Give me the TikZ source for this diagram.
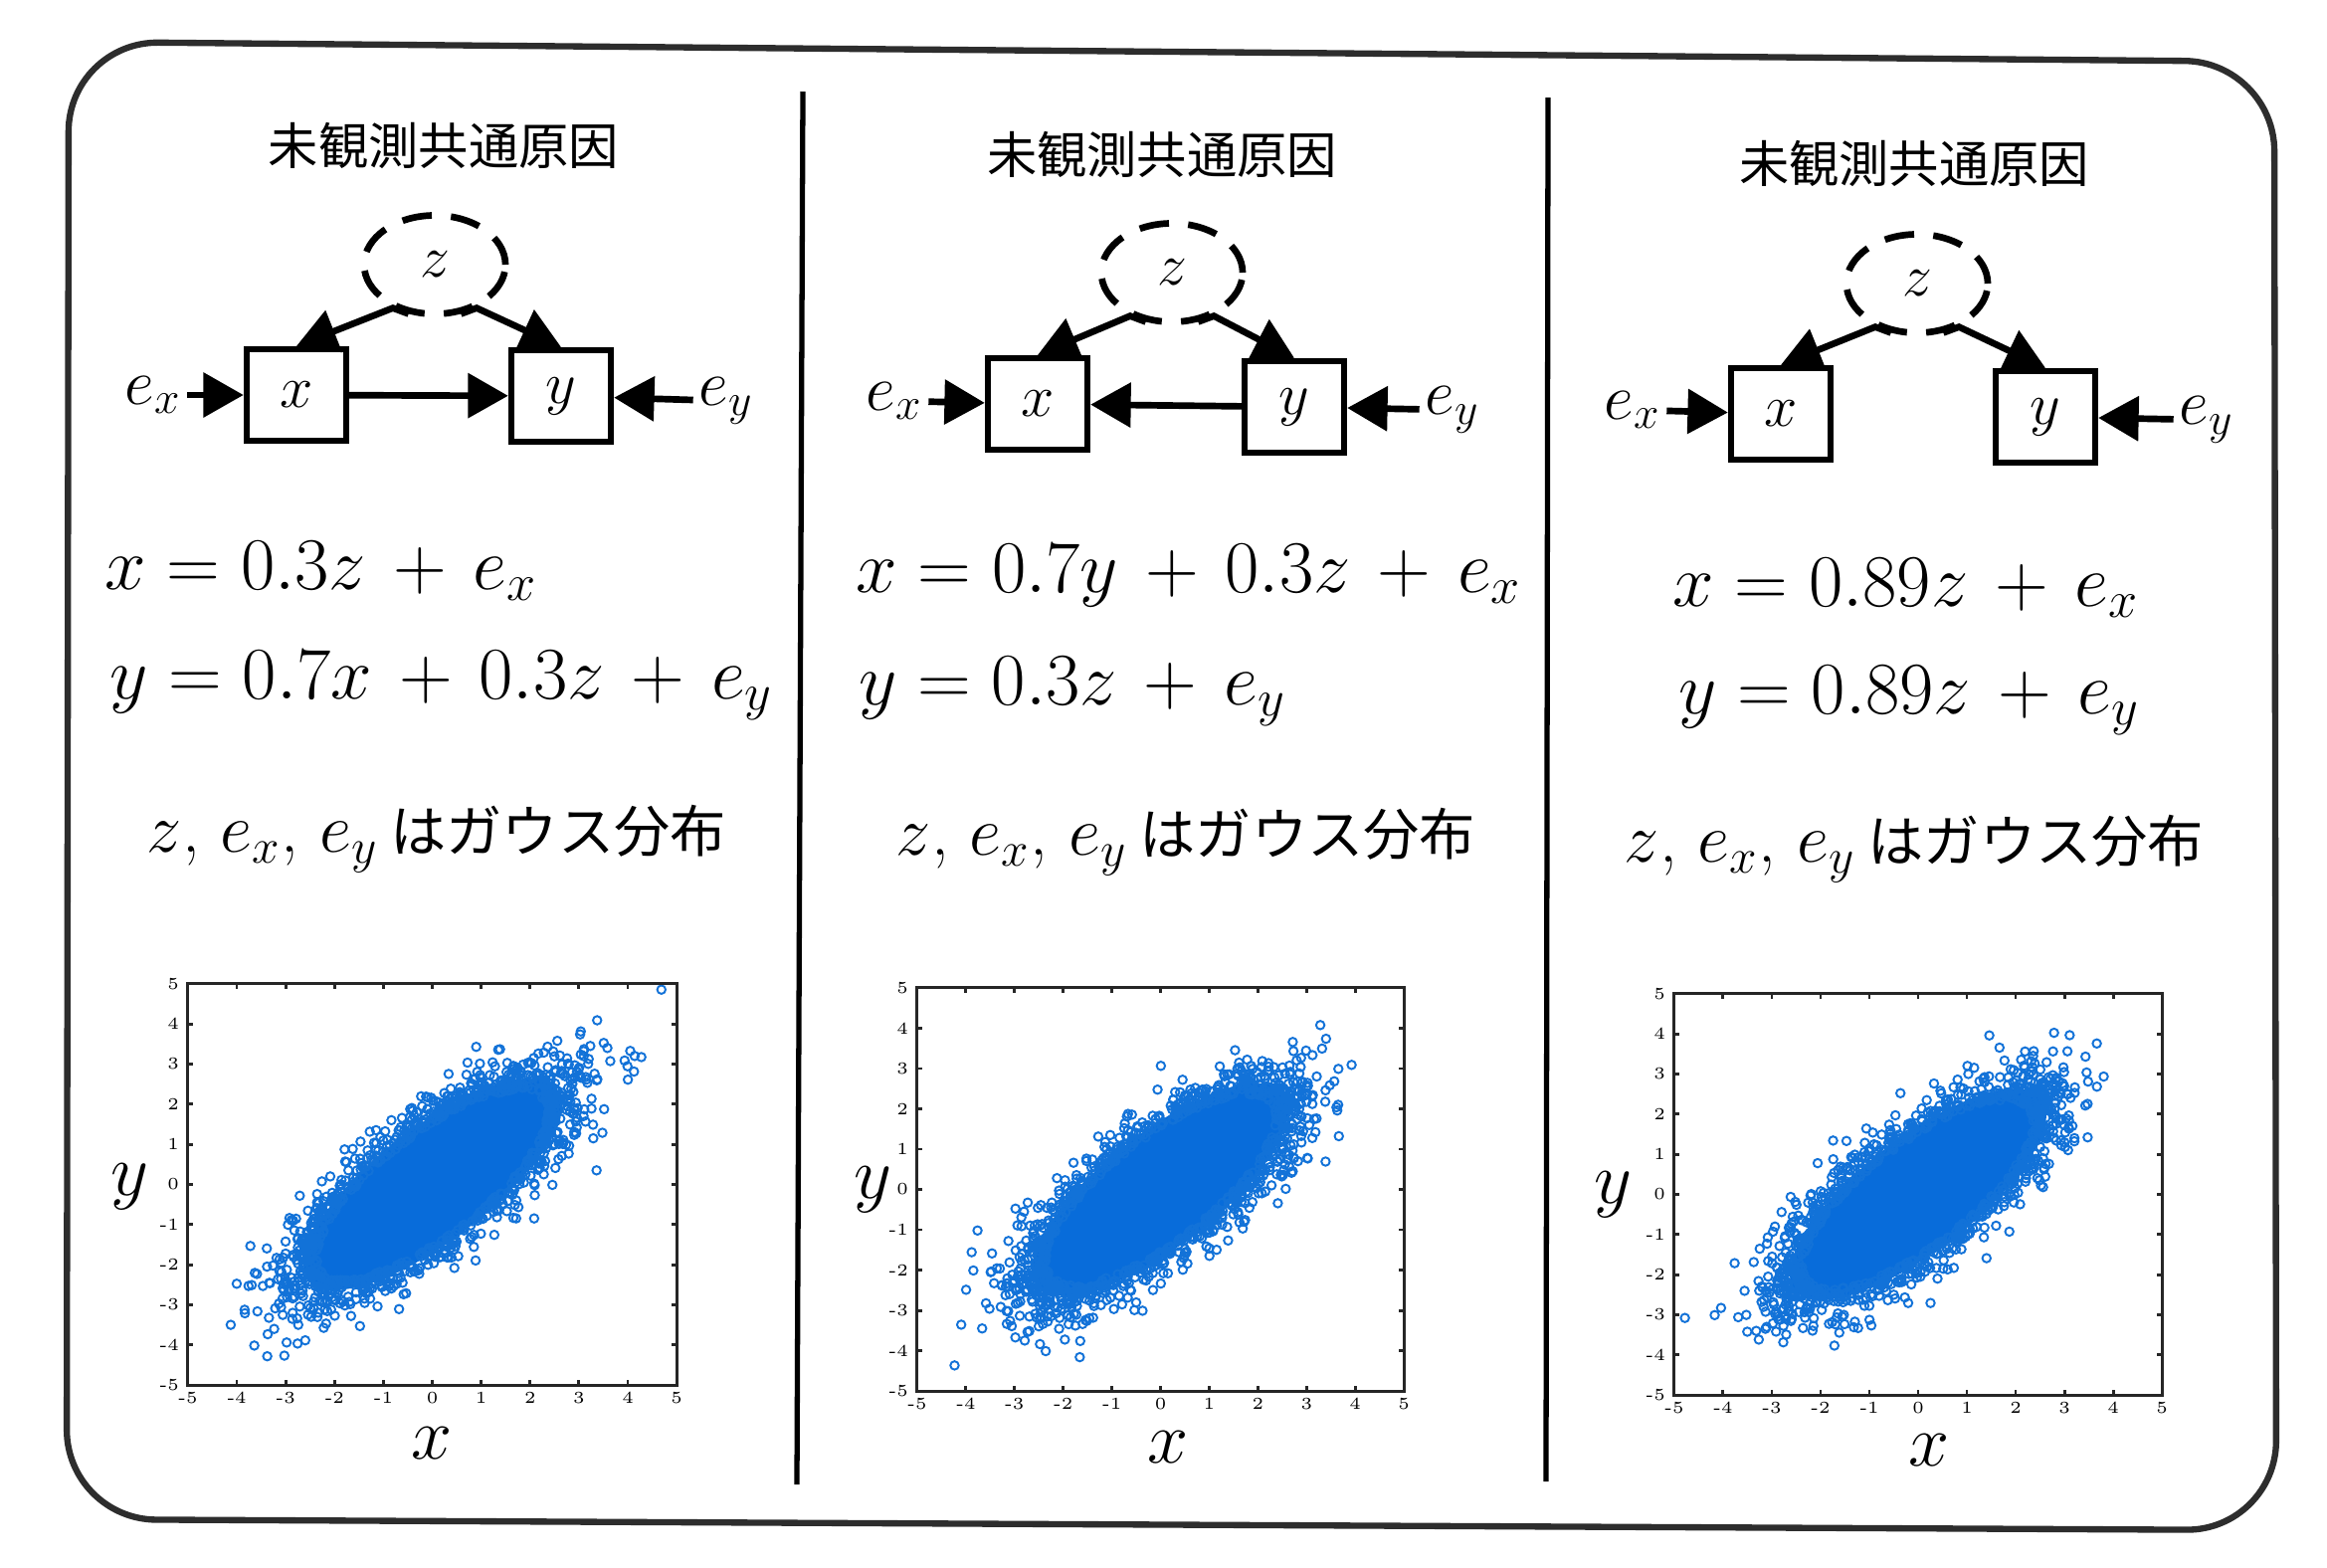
\RequirePackage{fix-cm}
\documentclass[tikz,border=0pt]{standalone}
\usepackage{fontspec}
\newfontfamily\jpfont{Noto Sans CJK JP}
\usetikzlibrary{arrows.meta,shapes.geometric}
\definecolor{dotblue}{RGB}{8,108,218}
\definecolor{ringblue}{RGB}{18,114,216}
\definecolor{framegray}{RGB}{45,45,45}
\newcommand\pls{\mskip2.5mu+\mskip2.5mu}
\tikzset{
  title/.style={inner sep=0, font=\jpfont\fontsize{14.3}{17}\selectfont},
  latent/.style={ellipse, draw, line width=1.9pt, dash pattern=on 8.5pt off 5.5pt,
    minimum width=1.42cm, minimum height=0.99cm, inner sep=0, font=\fontsize{17}{20}\selectfont},
  obs/.style={rectangle, draw, line width=1.8pt, minimum width=1.0cm, minimum height=0.92cm,
    inner sep=0, font=\fontsize{17}{20}\selectfont},
  lab/.style={inner sep=1.5pt, font=\fontsize{18.5}{22}\selectfont},
  arr/.style={line width=1.9pt, -{Triangle[length=11.5pt,width=12.5pt]}},
  eq/.style={inner sep=0, font=\fontsize{21.2}{25}\selectfont},
  gauss/.style={inner sep=0, font=\fontsize{20}{24}\selectfont},
  axlab/.style={inner sep=0, font=\fontsize{21}{25}\selectfont},
  ticklab/.style={inner sep=0, font=\fontsize{4.8}{6}\selectfont},
  axisline/.style={line width=0.8pt, draw=black!85},
  dotmark/.style={draw=ringblue, line width=0.55pt},
  divider/.style={line width=1.5pt},
  outerbox/.style={line width=1.8pt, draw=framegray}
}
% #1,#2 centre (px), #3,#4 unit sizes (cm), #5 seed
\newcommand\scatterplot[5]{%
\begin{scope}[shift={(#1,#2)},x=#3cm,y=#4cm]
  \begin{scope}
    \clip (-5,-5) rectangle (5,5);
    \fill[dotblue] plot[domain=0:360,samples=73,variable=\ang]
      ({1.12*2.35*cos(\ang)},{1.12*2.35*(0.76*cos(\ang)+0.65*sin(\ang))}) -- cycle;
    \pgfmathsetseed{#5}%
    \foreach \i in {1,...,1050}{%
      \pgfmathsetmacro\sRR{sqrt(4.41-2*ln(rnd*0.9998+0.0002))}%
      \pgfmathsetmacro\sAng{360*rnd}%
      \pgfmathsetmacro\sGa{1.12*\sRR*cos(\sAng)}%
      \pgfmathsetmacro\sGb{1.12*\sRR*sin(\sAng)}%
      \draw[dotmark] (\sGa,{0.76*\sGa+0.65*\sGb}) circle[radius=1.2pt];
    }%
  \end{scope}
  \draw[axisline] (-5,-5) rectangle (5,5);
  \foreach \tk in {-4,...,4}{%
    \draw[axisline] (\tk,-5) -- (\tk,-4.88) (\tk,5) -- (\tk,4.88)
      (-5,\tk) -- (-4.9,\tk) (5,\tk) -- (4.9,\tk);
  }
  \foreach \tk in {-5,...,5}{%
    \node[ticklab] at (\tk,-5.32) {\tk};
    \node[ticklab, anchor=east] at (-5.17,\tk) {\tk};
  }
\end{scope}}
\begin{document}
\begin{tikzpicture}[x=0.01cm,y=-0.01cm]
\fill[white] (0,0) rectangle (2339,1575);
\useasboundingbox (0,0) rectangle (2339,1575);
% outer frame and dividers
\draw[outerbox, rounded corners=0.9cm] (69,42) -- (2286,62) -- (2288,1538) -- (67,1527) -- cycle;
\draw[divider] (807,92) -- (801,1492);
\draw[divider] (1556,98) -- (1554,1489);

% ---------- column 1 ----------
\node[title] (t1) at (446,146) {未観測共通原因};
\node[latent] (z1) at (437,266) {$z$};
\node[obs] (x1) at (298,397) {$x$};
\node[obs] (y1) at (564,398) {$y$};
\node[lab] (ex1) at (154,397) {$e_x$};
\node[lab] (ey1) at (730,403) {$e_y$};
\draw[arr] (ex1) -- (x1);
\draw[arr] (ey1) -- (y1);
\draw[arr] (x1) -- (y1);
\draw[arr] (z1.242) -- (z1.226) -- (x1.north);
\draw[arr] (z1.298) -- (z1.314) -- (y1.north);
\node[eq, anchor=west] (a1) at (105,574) {$x = 0.3z \pls e_x$};
\node[eq, anchor=west] (b1) at (110,689) {$y = 0.7x \pls 0.3z \pls e_y$};
\node[gauss] (g1) at (439,843) {$z$, $e_x$, $e_y$\,{\jpfont\fontsize{16}{20}\selectfont はガウス分布}};
\scatterplot{434.5}{1190.5}{0.491}{0.403}{11}
\node[axlab] (yl1) at (130,1193) {$y$};
\node[axlab] (xl1) at (434,1451) {$x$};

% ---------- column 2 ----------
\node[title] (t2) at (1168,155) {未観測共通原因};
\node[latent] (z2) at (1178,274) {$z$};
\node[obs] (x2) at (1043,406) {$x$};
\node[obs] (y2) at (1301,409) {$y$};
\node[lab] (ex2) at (899,403) {$e_x$};
\node[lab] (ey2) at (1460,412) {$e_y$};
\draw[arr] (ex2) -- (x2);
\draw[arr] (ey2) -- (y2);
\draw[arr] (y2) -- (x2);
\draw[arr] (z2.242) -- (z2.226) -- (x2.north);
\draw[arr] (z2.298) -- (z2.314) -- (y2.north);
\node[eq, anchor=west] (a2) at (860,579) {$x = 0.7y \pls 0.3z \pls e_x$};
\node[eq, anchor=west] (b2) at (863,695) {$y = 0.3z \pls e_y$};
\node[gauss] (g2) at (1192,846) {$z$, $e_x$, $e_y$\,{\jpfont\fontsize{16}{20}\selectfont はガウス分布}};
\scatterplot{1166.5}{1195.5}{0.489}{0.405}{23}
\node[axlab] (yl2) at (877,1196) {$y$};
\node[axlab] (xl2) at (1174,1455) {$x$};

% ---------- column 3 ----------
\node[title] (t3) at (1924,164) {未観測共通原因};
\node[latent] (z3) at (1927,285) {$z$};
\node[obs] (x3) at (1790,416) {$x$};
\node[obs] (y3) at (2056,419) {$y$};
\node[lab] (ex3) at (1641,412) {$e_x$};
\node[lab] (ey3) at (2218,422) {$e_y$};
\draw[arr] (ex3) -- (x3);
\draw[arr] (ey3) -- (y3);
\draw[arr] (z3.242) -- (z3.226) -- (x3.north);
\draw[arr] (z3.298) -- (z3.314) -- (y3.north);
\node[eq, anchor=west] (a3) at (1681,591) {$x = 0.89z \pls e_x$};
\node[eq, anchor=west] (b3) at (1687,704) {$y = 0.89z \pls e_y$};
\node[gauss] (g3) at (1924,853) {$z$, $e_x$, $e_y$\,{\jpfont\fontsize{16}{20}\selectfont はガウス分布}};
\scatterplot{1928}{1200.5}{0.490}{0.403}{37}
\node[axlab] (yl3) at (1621,1201) {$y$};
\node[axlab] (xl3) at (1939,1458) {$x$};
\end{tikzpicture}
\end{document}
